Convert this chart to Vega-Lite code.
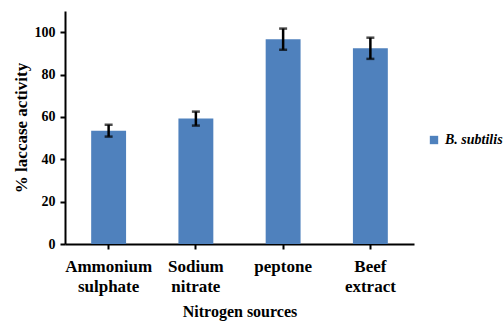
{
  "$schema": "https://vega.github.io/schema/vega-lite/v6.json",
  "width": 349,
  "height": 233,
  "autosize": "none",
  "padding": {"left": 65, "top": 11, "right": 90, "bottom": 80},
  "background": "white",
  "data": {
    "values": [
      {"source": "Ammonium sulphate", "value": 53.5, "err": 2.8, "strain": "B. subtilis"},
      {"source": "Sodium nitrate", "value": 59.2, "err": 3.3, "strain": "B. subtilis"},
      {"source": "peptone", "value": 96.7, "err": 5.0, "strain": "B. subtilis"},
      {"source": "Beef extract", "value": 92.4, "err": 5.0, "strain": "B. subtilis"}
    ]
  },
  "config": {
    "view": {"stroke": null},
    "font": "Liberation Serif",
    "axis": {"grid": false, "domainColor": "black", "tickColor": "black", "labelColor": "black", "titleColor": "black", "labelFont": "Liberation Serif", "titleFont": "Liberation Serif", "labelFontWeight": "bold", "titleFontWeight": "bold"}
  },
  "layer": [
    {
      "mark": {"type": "bar", "color": "#4F81BD"},
      "encoding": {
        "x": {
          "field": "source", "type": "nominal", "sort": null,
          "scale": {"paddingInner": 0.6, "paddingOuter": 0.3},
          "axis": {
            "title": "Nitrogen sources", "titleFontSize": 16, "titlePadding": 9,
            "labelAngle": 0, "labelFontSize": 17, "labelLineHeight": 20,
            "labelExpr": "split(datum.label, ' ')", "labelPadding": 9,
            "labelFont": "Liberation Serif", "titleFont": "Liberation Serif",
            "domainWidth": 2, "tickWidth": 2, "tickSize": 5
          }
        },
        "y": {
          "field": "value", "type": "quantitative", "title": "% laccase activity",
          "scale": {"domain": [0, 110], "nice": false},
          "axis": {
            "titleFontSize": 17, "titlePadding": 4,
            "labelFont": "Liberation Serif", "titleFont": "Liberation Serif",
            "values": [0, 20, 40, 60, 80, 100], "labelFontSize": 14, "labelPadding": 5,
            "domainWidth": 2, "tickWidth": 2, "tickSize": 5
          }
        },
        "color": {
          "field": "strain", "type": "nominal",
          "scale": {"range": ["#4F81BD"]},
          "legend": {
            "title": null, "orient": "none", "legendX": 362, "legendY": 122,
            "symbolType": "square", "symbolSize": 70, "labelFontSize": 14,
            "labelFontWeight": "bold", "labelFontStyle": "italic", "labelFont": "Liberation Serif", "labelColor": "black"
          }
        }
      }
    },
    {
      "mark": {"type": "errorbar", "ticks": true, "thickness": 2.5, "size": 8, "color": "black"},
      "encoding": {
        "x": {"field": "source", "type": "nominal", "sort": null},
        "y": {"field": "value", "type": "quantitative", "title": "% laccase activity"},
        "yError": {"field": "err"}
      }
    }
  ]
}
